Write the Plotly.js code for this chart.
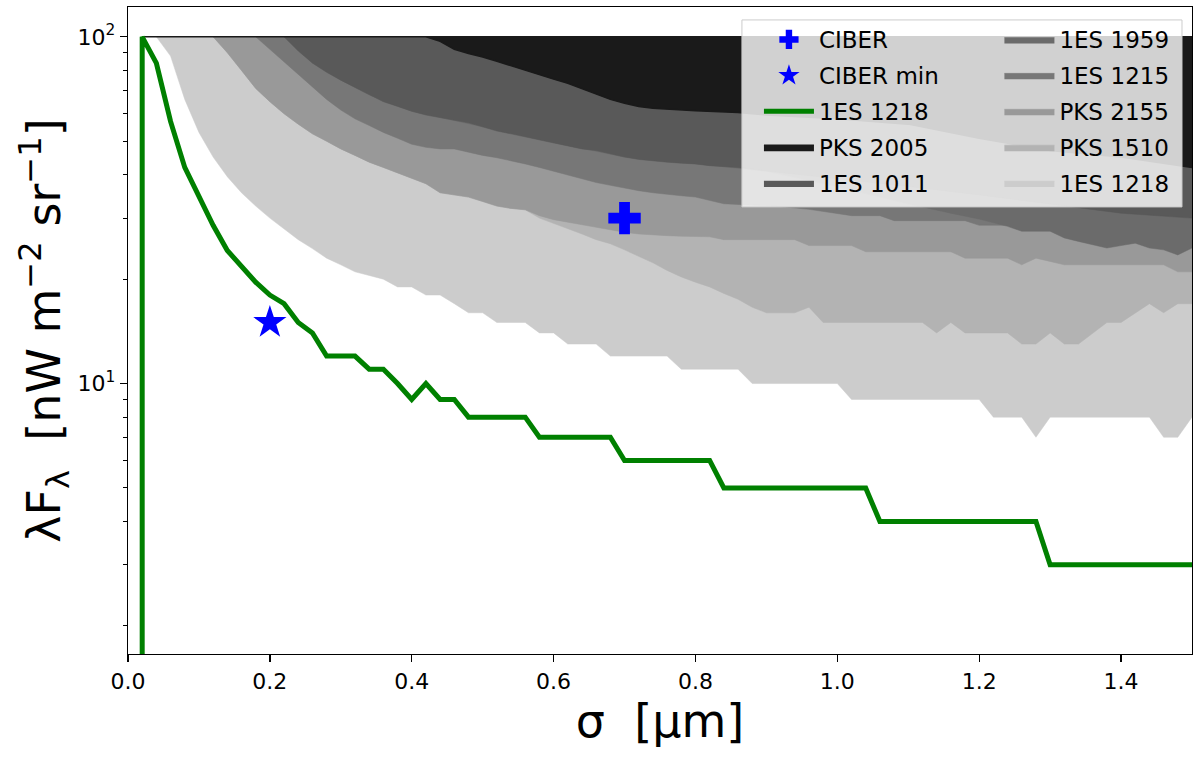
<!DOCTYPE html>
<html>
<head>
<meta charset="utf-8">
<script src="https://cdn.plot.ly/plotly-3.0.1.min.js"></script>
<style>
    html, body { margin: 0; padding: 0; background: #ffffff; }
    #chart { width: 1200px; height: 762px; }
</style>
</head>
<body>
<div id="chart"></div>
<script>
// upper limit of every excluded region
const TOP = 100;

// lower edges of the excluded regions (sigma in um, lambda F_lambda in nW m^-2 sr^-1)
const pks2005X = [0.02, 0.42, 0.44, 0.46, 0.48, 0.50, 0.52, 0.54, 0.56, 0.58, 0.60, 0.62, 0.64, 0.66, 0.68, 0.70, 0.72, 0.74, 0.76, 0.80, 0.86, 0.90, 1.00, 1.10, 1.20, 1.30, 1.40, 1.50];
const pks2005Y = [100, 100, 97, 92, 89.5, 87.5, 85, 82.5, 80, 77.5, 75.5, 73.5, 71, 68.5, 66, 64.3, 63, 62.2, 61.8, 61.2, 60.5, 59.5, 58, 56, 51, 47, 45, 42];

const es1011X = [0.22, 0.24, 0.26, 0.28, 0.30, 0.32, 0.34, 0.36, 0.38, 0.40, 0.42, 0.44, 0.46, 0.48, 0.50, 0.52, 0.54, 0.56, 0.58, 0.60, 0.62, 0.64, 0.66, 0.68, 0.70, 0.72, 0.74, 0.76, 0.78, 0.80, 0.82, 0.86, 0.90, 1.00, 1.10, 1.20, 1.30, 1.40, 1.50];
const es1011Y = [100, 91, 84, 79, 75, 71.5, 68, 65, 63, 61, 59.5, 58.5, 57.5, 56.5, 55, 53.5, 52.5, 51.5, 50.5, 49.5, 48.5, 47.5, 47, 46, 45, 44.3, 43.8, 43.5, 43.2, 43, 42.5, 42, 41, 39, 37, 35, 33, 31, 30];

const es1959X = [0.22, 0.26, 0.30, 0.34, 0.40, 0.46, 0.50, 0.60, 0.70, 0.80, 0.90, 1.00, 1.10, 1.16, 1.20, 1.24, 1.26, 1.30, 1.32, 1.34, 1.36, 1.38, 1.40, 1.42, 1.44, 1.46, 1.48, 1.50];
const es1959Y = [100, 84, 75, 68, 61, 57.5, 55, 49.5, 45, 43, 41, 37, 33, 31, 29.8, 28.4, 27.5, 27.5, 26.3, 25.7, 25.1, 24.6, 25, 25.4, 24.6, 24.3, 23.5, 24.6];

const es1215X = [0.18, 0.20, 0.22, 0.24, 0.26, 0.28, 0.30, 0.32, 0.34, 0.36, 0.38, 0.40, 0.42, 0.44, 0.46, 0.48, 0.50, 0.52, 0.54, 0.56, 0.58, 0.60, 0.62, 0.64, 0.66, 0.68, 0.70, 0.72, 0.74, 0.76, 0.78, 0.80, 0.82, 0.84, 0.88, 0.92, 0.96, 1.00, 1.02, 1.06, 1.08, 1.18, 1.20, 1.24, 1.26, 1.30, 1.32, 1.34, 1.36, 1.38, 1.40, 1.42, 1.44, 1.46, 1.48, 1.50];
const es1215Y = [100, 92, 85, 78, 71.5, 66, 61.5, 58, 55.5, 53, 51, 49, 48, 47.5, 47.5, 46.5, 45.5, 44.8, 44, 43, 42, 41, 40, 39, 38, 37.3, 36.6, 36, 35.5, 35.1, 34.8, 34.5, 33.8, 33, 32.7, 32.4, 31.8, 31, 30.5, 30.5, 29.5, 29.5, 28.6, 28.6, 27.7, 27.7, 26.5, 25.9, 25.3, 24.8, 25.2, 25.6, 24.8, 24.5, 23.7, 24.8];

const pks2155X = [0.12, 0.14, 0.16, 0.18, 0.20, 0.22, 0.24, 0.26, 0.28, 0.30, 0.32, 0.34, 0.36, 0.38, 0.40, 0.42, 0.44, 0.46, 0.48, 0.50, 0.52, 0.54, 0.56, 0.58, 0.60, 0.62, 0.64, 0.66, 0.68, 0.70, 0.72, 0.74, 0.76, 0.78, 0.80, 0.82, 0.84, 0.94, 0.96, 1.02, 1.04, 1.16, 1.18, 1.24, 1.26, 1.28, 1.30, 1.32, 1.46, 1.48, 1.50];
const pks2155Y = [100, 90, 80, 71, 65, 60, 56, 52.5, 50, 47.5, 45.5, 43.5, 42, 40.5, 39, 37.7, 35.5, 35, 34.5, 33.5, 32.5, 32, 31.7, 30.5, 29.7, 29.2, 28.7, 28.2, 27.7, 27.3, 27, 26.8, 26.7, 26.6, 26.5, 26.5, 26, 26, 25, 25, 24, 24, 23, 23, 22, 23, 22.5, 22, 22, 21, 21];

const pks1510X = [0.12, 0.14, 0.16, 0.18, 0.20, 0.22, 0.24, 0.26, 0.28, 0.30, 0.32, 0.34, 0.36, 0.38, 0.40, 0.42, 0.44, 0.46, 0.48, 0.50, 0.52, 0.54, 0.56, 0.58, 0.60, 0.62, 0.64, 0.66, 0.68, 0.70, 0.72, 0.74, 0.76, 0.78, 0.80, 0.82, 0.84, 0.86, 0.88, 0.90, 0.94, 0.96, 0.98, 1.12, 1.14, 1.16, 1.18, 1.24, 1.26, 1.28, 1.30, 1.32, 1.34, 1.36, 1.38, 1.40, 1.42, 1.44, 1.46, 1.48, 1.50];
const pks1510Y = [100, 90, 80, 71, 65, 60, 56, 52.5, 50, 47.5, 45.5, 43.5, 42, 40.5, 39, 37.7, 35.5, 35, 34.5, 33.5, 32.5, 32, 31.7, 30, 29, 28, 27, 26, 25.3, 24.3, 23.3, 22.3, 21.2, 20.3, 19.6, 19, 18.2, 17.5, 16.6, 16, 16, 16.6, 15, 15, 14, 15, 14, 14, 13, 13, 14, 13, 13, 14, 15, 15, 16, 17, 16, 17, 17];

const es1218X = [0.04, 0.06, 0.08, 0.10, 0.12, 0.14, 0.16, 0.18, 0.20, 0.22, 0.24, 0.26, 0.28, 0.30, 0.32, 0.34, 0.36, 0.38, 0.40, 0.42, 0.44, 0.46, 0.48, 0.50, 0.52, 0.56, 0.58, 0.60, 0.62, 0.66, 0.68, 0.76, 0.78, 0.86, 0.88, 1.00, 1.02, 1.20, 1.22, 1.26, 1.28, 1.30, 1.44, 1.46, 1.48, 1.50];
const es1218Y = [100, 88, 66, 53, 45, 39.5, 35.5, 32.5, 30, 28, 26, 24.5, 23, 22, 21, 20.5, 20, 19, 19, 18, 18, 17, 16, 16, 15, 15, 14, 14, 13, 13, 12, 12, 11, 11, 10, 10, 9, 9, 8, 8, 7, 8, 8, 7, 7, 8];

// 1ES 1218 limit curve
const curveX = [0.02, 0.02, 0.04, 0.06, 0.08, 0.10, 0.12, 0.14, 0.16, 0.18, 0.20, 0.22, 0.24, 0.26, 0.28, 0.32, 0.34, 0.36, 0.38, 0.40, 0.42, 0.44, 0.46, 0.48, 0.56, 0.58, 0.68, 0.70, 0.82, 0.84, 1.04, 1.06, 1.28, 1.30, 1.50];
const curveY = [1, 100, 84, 57, 42, 34.5, 28.6, 24.2, 21.7, 19.6, 18, 17, 15, 14, 12, 12, 11, 11, 10, 9, 10, 9, 9, 8, 8, 7, 7, 6, 6, 5, 5, 4, 4, 3, 3];

// CIBER points
const ciberX = [0.70];
const ciberY = [30];
const ciberMinX = [0.20];
const ciberMinY = [15];

const xTicks = [0, 0.2, 0.4, 0.6, 0.8, 1.0, 1.2, 1.4];
const yTicks = [10, 100];
const yTickText = ["10<sup>1</sup>", "10<sup>2</sup>"];
const yMinorTicks = [2, 3, 4, 5, 6, 7, 8, 9, 20, 30, 40, 50, 60, 70, 80, 90];


window.addEventListener("DOMContentLoaded", init);


function init() {
    let data = [
        region(es1218X, es1218Y, "1ES 1218", "#cccccc", "legend2", 5),
        region(pks1510X, pks1510Y, "PKS 1510", "#b3b3b3", "legend2", 4),
        region(pks2155X, pks2155Y, "PKS 2155", "#999999", "legend2", 3),
        region(es1215X, es1215Y, "1ES 1215", "#777777", "legend2", 2),
        region(es1959X, es1959Y, "1ES 1959", "#6b6b6b", "legend2", 1),
        region(es1011X, es1011Y, "1ES 1011", "#595959", "legend", 5),
        region(pks2005X, pks2005Y, "PKS 2005", "#1a1a1a", "legend", 4),
        {
            x: curveX, y: curveY, type: "scatter", mode: "lines", name: "1ES 1218",
            line: { color: "#008000", width: 5 },
            legend: "legend", legendrank: 3, legendgroup: "curve"
        },
        {
            x: ciberX, y: ciberY, type: "scatter", mode: "markers", name: "CIBER",
            marker: { symbol: "cross", size: 27, color: "#0000ff" },
            legend: "legend", legendrank: 1, legendgroup: "ciber"
        },
        {
            x: ciberMinX, y: ciberMinY, type: "scatter", mode: "markers", name: "CIBER min",
            marker: { symbol: "star", size: 25, color: "#0000ff" },
            legend: "legend", legendrank: 2, legendgroup: "ciberMin"
        }
    ];

    let legendStyle = {
        yanchor: "top", xanchor: "left", y: 0.983,
        bgcolor: "rgba(0,0,0,0)", borderwidth: 0,
        font: { family: "DejaVu Sans", size: 23, color: "#000000" },
        tracegroupgap: 3, itemwidth: 50
    };

    let layout = {
        width: 1200, height: 762,
        margin: { l: 128, r: 8, t: 7, b: 108 },
        paper_bgcolor: "#ffffff", plot_bgcolor: "#ffffff",
        font: { family: "DejaVu Sans", color: "#000000" },
        showlegend: true,
        legend: Object.assign({ x: 0.593 }, legendStyle),
        legend2: Object.assign({ x: 0.819 }, legendStyle),
        xaxis: {
            range: [0, 1.5], tickvals: xTicks, tickformat: ".1f",
            ticks: "outside", ticklen: 7, tickwidth: 1.3, tickcolor: "#000000",
            showline: true, linecolor: "#000000", linewidth: 1.3, mirror: true,
            showgrid: false, zeroline: false,
            tickfont: { size: 22 },
            title: { text: "σ  [μm]", font: { size: 46 }, standoff: 12 }
        },
        yaxis: {
            type: "log", range: [0.22, 2.086],
            tickvals: yTicks, ticktext: yTickText,
            ticks: "outside", ticklen: 7, tickwidth: 1.3, tickcolor: "#000000",
            minor: { tickvals: yMinorTicks, ticks: "outside", ticklen: 4, tickwidth: 1, tickcolor: "#000000" },
            showline: true, linecolor: "#000000", linewidth: 1.3, mirror: true,
            showgrid: false, zeroline: false,
            tickfont: { size: 22 },
            title: { text: "λF<sub>λ</sub>  [nW m<sup>−2</sup> sr<sup>−1</sup>]", font: { size: 46 }, standoff: 2 }
        },
        shapes: [{
            type: "rect", xref: "paper", yref: "paper", layer: "above",
            x0: 0.577, x1: 0.9906, y0: 0.691, y1: 0.980,
            fillcolor: "rgba(255,255,255,0.8)",
            line: { color: "#cccccc", width: 1 }
        }]
    };

    Plotly.newPlot("chart", data, layout, { displayModeBar: false, staticPlot: true });
}


// closed region between a lower edge and the upper limit
function region(xs, ys, name, color, legendId, rank) {
    let x = xs.concat(xs.slice().reverse());
    let y = ys.concat(xs.map(() => TOP));
    let edge = name === "PKS 2005" ? { color: color, width: 1.5 } : { color: color, width: 0.5 };
    return {
        x: x, y: y, type: "scatter", mode: "lines", fill: "toself",
        fillcolor: color, line: edge, name: name,
        legend: legendId, legendrank: rank, legendgroup: name + legendId,
        hoverinfo: "skip"
    };
}
</script>
</body>
</html>
